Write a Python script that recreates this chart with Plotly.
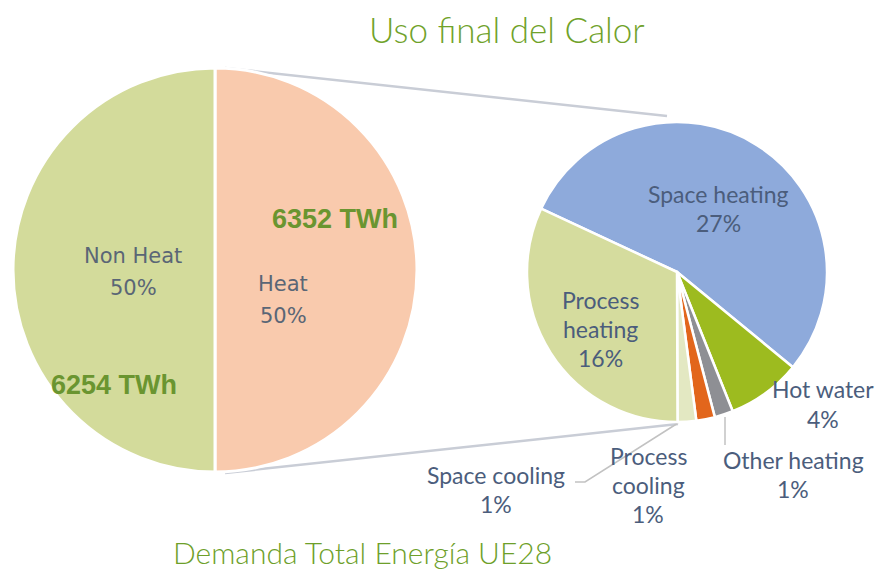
import plotly.graph_objects as go

W, H = 879, 571

# ---------------- data ----------------
total_labels = ["Heat", "Non Heat"]
total_pct = [50, 50]
total_twh = [6352, 6254]
total_colors = ["#f9caad", "#d3db9b"]

heat_labels = ["Space heating", "Hot water", "Other heating",
               "Process cooling", "Space cooling", "Process heating"]
heat_pct = [27, 4, 1, 1, 1, 16]
heat_colors = ["#8eaadb", "#9dbb1f", "#8e8f94", "#e2661c", "#e3e8c2", "#d5dc9e"]

title_text = "Uso final del Calor"
subtitle_text = "Demanda Total Energía UE28"
wrapped = {"Process heating", "Process cooling"}

# ---------------- layout helpers (pixel positions) ----------------
def px(x):
    return x / W


def py(y):
    return 1 - y / H


left_c, left_r = (215, 270), 202
right_c, right_r = (677, 272), 150

left_label_pos = {"Heat": (283, 300), "Non Heat": (133, 272)}
twh_pos = {"Heat": (335, 219), "Non Heat": (114, 385)}
right_label_pos = {"Space heating": (718, 208), "Hot water": (823, 404),
                   "Other heating": (793, 474), "Process cooling": (648, 485),
                   "Space cooling": (496, 489), "Process heating": (600, 329)}

fig = go.Figure()

fig.add_trace(go.Pie(
    labels=total_labels, values=total_pct, sort=False, direction="clockwise",
    rotation=0, textinfo="none", hoverinfo="label+percent", showlegend=False,
    marker=dict(colors=total_colors, line=dict(color="white", width=3)),
    domain=dict(x=[px(left_c[0] - left_r), px(left_c[0] + left_r)],
                y=[py(left_c[1] + left_r), py(left_c[1] - left_r)]),
))

fig.add_trace(go.Pie(
    labels=heat_labels, values=heat_pct, sort=False, direction="clockwise",
    rotation=-65, textinfo="none", hoverinfo="label+value", showlegend=False,
    marker=dict(colors=heat_colors, line=dict(color="white", width=2.5)),
    domain=dict(x=[px(right_c[0] - right_r), px(right_c[0] + right_r)],
                y=[py(right_c[1] + right_r), py(right_c[1] - right_r)]),
))

annotations = []


def add_block(lines, cx, cy, font, spacing):
    n = len(lines)
    for i, t in enumerate(lines):
        y = cy + (i - (n - 1) / 2) * spacing
        annotations.append(dict(
            x=px(cx), y=py(y), xref="paper", yref="paper", text=t,
            showarrow=False, xanchor="center", yanchor="middle", font=font))


left_font = dict(family="DejaVu Sans", size=21, color="#5a6676")
right_font = dict(family="Lato", size=23, color="#4b5d7c")
twh_font = dict(family="Liberation Sans", size=27, color="#6a9530", weight="bold")

for lab, v in zip(total_labels, total_pct):
    cx, cy = left_label_pos[lab]
    add_block([lab, f"{v}%"], cx, cy, left_font, 32)

for lab, v in zip(total_labels, total_twh):
    cx, cy = twh_pos[lab]
    add_block([f"{v} TWh"], cx, cy, twh_font, 0)

for lab, v in zip(heat_labels, heat_pct):
    cx, cy = right_label_pos[lab]
    words = lab.split(" ") if lab in wrapped else [lab]
    add_block(words + [f"{v}%"], cx, cy, right_font, 29)

add_block([title_text], 507, 29,
          dict(family="Lato", size=35, color="#70a22a", weight=300), 0)
add_block([subtitle_text], 362, 552,
          dict(family="Lato", size=30, color="#6e9f2a", weight=300), 0)

conn = dict(color="#c9cdd6", width=2.5)
lead = dict(color="#c2c2c2", width=1.5)
shapes = [
    dict(type="line", xref="paper", yref="paper", layer="below",
         x0=px(225), y0=py(68), x1=px(667), y1=py(116), line=conn),
    dict(type="line", xref="paper", yref="paper", layer="below",
         x0=px(225), y0=py(473), x1=px(678), y1=py(424), line=conn),
    dict(type="path", xref="paper", yref="paper", layer="below",
         path=f"M {px(575)} {py(482)} L {px(585)} {py(482)} L {px(678)} {py(423)}",
         line=lead),
    dict(type="line", xref="paper", yref="paper", layer="below",
         x0=px(725), y0=py(417), x1=px(725), y1=py(445), line=lead),
]

fig.update_layout(
    width=W, height=H, margin=dict(l=0, r=0, t=0, b=0),
    paper_bgcolor="white", plot_bgcolor="white", showlegend=False,
    annotations=annotations, shapes=shapes,
)

fig.write_html(
    "out.html",
    config={"displayModeBar": False},
    post_script="document.body.style.margin='0';document.body.style.overflow='hidden';",
)
